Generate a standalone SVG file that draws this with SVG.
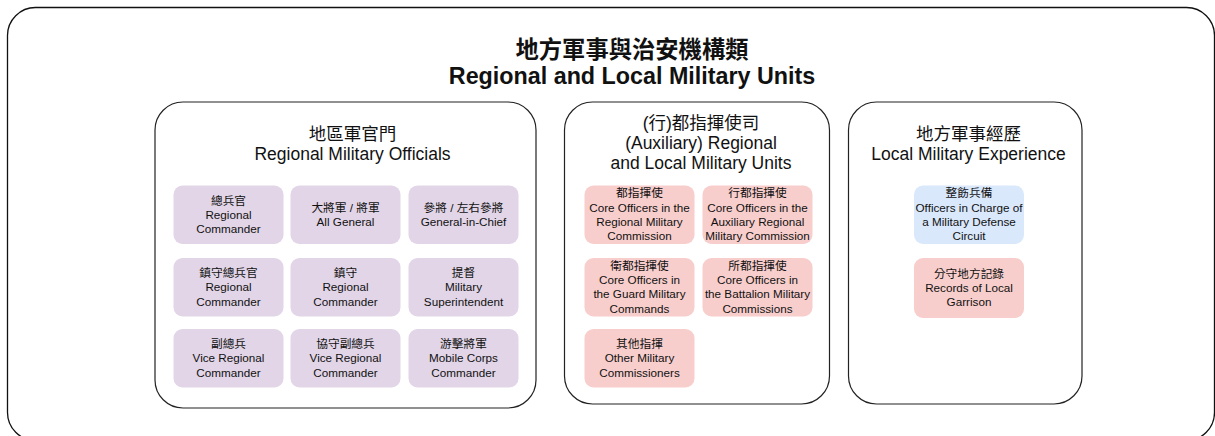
<svg xmlns="http://www.w3.org/2000/svg" width="1215" height="436" viewBox="0 0 1215 436">
<style>
text{font-family:"Liberation Sans","Noto Sans CJK TC",sans-serif;fill:#111;text-anchor:middle}
.t1{font-size:23.3px;font-weight:bold}
.t2{font-size:17.5px}
.n{font-size:11.7px}
.panel{fill:#fff;stroke:#222;stroke-width:1.2}
.pu{fill:#e1d5e7}
.re{fill:#f8cecc}
.bl{fill:#dae8fc}
</style>
<rect x="7.5" y="7.5" width="1207" height="433" rx="28" fill="#fff" stroke="#111" stroke-width="1.3"/>
<g id="title">
<text class="t1" x="632" y="58">地方軍事與治安機構類</text>
<text class="t1" x="632" y="84">Regional and Local Military Units</text>
</g>
<g id="panel1">
<rect class="panel" x="155" y="102" width="381" height="306" rx="28"/>
<text class="t2" x="352.5" y="139.5">地區軍官門</text>
<text class="t2" x="352.5" y="159.5">Regional Military Officials</text>
</g>
<g id="n1"><rect class="pu" x="173.5" y="185.5" width="110" height="58.5" rx="9"/>
<text class="n" x="228.5" y="204.5">總兵官</text><text class="n" x="228.5" y="218.8">Regional</text><text class="n" x="228.5" y="233.1">Commander</text></g>
<g id="n2"><rect class="pu" x="290.5" y="185.5" width="110" height="58.5" rx="9"/>
<text class="n" x="345.5" y="211.7">大將軍 / 將軍</text><text class="n" x="345.5" y="226">All General</text></g>
<g id="n3"><rect class="pu" x="408.5" y="185.5" width="110" height="58.5" rx="9"/>
<text class="n" x="463.5" y="211.7">參將 / 左右參將</text><text class="n" x="463.5" y="226">General-in-Chief</text></g>
<g id="n4"><rect class="pu" x="173.5" y="258" width="110" height="58.5" rx="9"/>
<text class="n" x="228.5" y="277">鎮守總兵官</text><text class="n" x="228.5" y="291.3">Regional</text><text class="n" x="228.5" y="305.6">Commander</text></g>
<g id="n5"><rect class="pu" x="290.5" y="258" width="110" height="58.5" rx="9"/>
<text class="n" x="345.5" y="277">鎮守</text><text class="n" x="345.5" y="291.3">Regional</text><text class="n" x="345.5" y="305.6">Commander</text></g>
<g id="n6"><rect class="pu" x="408.5" y="258" width="110" height="58.5" rx="9"/>
<text class="n" x="463.5" y="277">提督</text><text class="n" x="463.5" y="291.3">Military</text><text class="n" x="463.5" y="305.6">Superintendent</text></g>
<g id="n7"><rect class="pu" x="173.5" y="329" width="110" height="58.5" rx="9"/>
<text class="n" x="228.5" y="348">副總兵</text><text class="n" x="228.5" y="362.3">Vice Regional</text><text class="n" x="228.5" y="376.6">Commander</text></g>
<g id="n8"><rect class="pu" x="290.5" y="329" width="110" height="58.5" rx="9"/>
<text class="n" x="345.5" y="348">協守副總兵</text><text class="n" x="345.5" y="362.3">Vice Regional</text><text class="n" x="345.5" y="376.6">Commander</text></g>
<g id="n9"><rect class="pu" x="408.5" y="329" width="110" height="58.5" rx="9"/>
<text class="n" x="463.5" y="348">游擊將軍</text><text class="n" x="463.5" y="362.3">Mobile Corps</text><text class="n" x="463.5" y="376.6">Commander</text></g>
<g id="panel2">
<rect class="panel" x="564.5" y="102" width="265" height="302" rx="28"/>
<text class="t2" x="701" y="128.5">(行)都指揮使司</text>
<text class="t2" x="701" y="149">(Auxiliary) Regional</text>
<text class="t2" x="701" y="169">and Local Military Units</text>
</g>
<g id="m1"><rect class="re" x="584.5" y="185.5" width="110" height="58.5" rx="9"/>
<text class="n" x="639.5" y="197.3">都指揮使</text><text class="n" x="639.5" y="211.6">Core Officers in the</text><text class="n" x="639.5" y="225.9">Regional Military</text><text class="n" x="639.5" y="240.2">Commission</text></g>
<g id="m2"><rect class="re" x="702.5" y="185.5" width="110" height="58.5" rx="9"/>
<text class="n" x="757.5" y="197.3">行都指揮使</text><text class="n" x="757.5" y="211.6">Core Officers in the</text><text class="n" x="757.5" y="225.9">Auxiliary Regional</text><text class="n" x="757.5" y="240.2">Military Commission</text></g>
<g id="m3"><rect class="re" x="584.5" y="258" width="110" height="58.5" rx="9"/>
<text class="n" x="639.5" y="269.8">衛都指揮使</text><text class="n" x="639.5" y="284.1">Core Officers in</text><text class="n" x="639.5" y="298.4">the Guard Military</text><text class="n" x="639.5" y="312.7">Commands</text></g>
<g id="m4"><rect class="re" x="702.5" y="258" width="110" height="58.5" rx="9"/>
<text class="n" x="757.5" y="269.8">所都指揮使</text><text class="n" x="757.5" y="284.1">Core Officers in</text><text class="n" x="757.5" y="298.4">the Battalion Military</text><text class="n" x="757.5" y="312.7">Commissions</text></g>
<g id="m5"><rect class="re" x="584.5" y="329" width="110" height="58.5" rx="9"/>
<text class="n" x="639.5" y="348">其他指揮</text><text class="n" x="639.5" y="362.3">Other Military</text><text class="n" x="639.5" y="376.6">Commissioners</text></g>
<g id="panel3">
<rect class="panel" x="848.5" y="102" width="233.5" height="302" rx="28"/>
<text class="t2" x="968.5" y="139.5">地方軍事經歷</text>
<text class="t2" x="968.5" y="159.5">Local Military Experience</text>
</g>
<g id="k1"><rect class="bl" x="914" y="185.5" width="110" height="58.5" rx="9"/>
<text class="n" x="969" y="197.3">整飭兵備</text><text class="n" x="969" y="211.6">Officers in Charge of</text><text class="n" x="969" y="225.9">a Military Defense</text><text class="n" x="969" y="240.2">Circuit</text></g>
<g id="k2"><rect class="re" x="914" y="258" width="110" height="60" rx="9"/>
<text class="n" x="969" y="277.7">分守地方記錄</text><text class="n" x="969" y="292">Records of Local</text><text class="n" x="969" y="306.3">Garrison</text></g>
<g id="connectors"/>
</svg>
